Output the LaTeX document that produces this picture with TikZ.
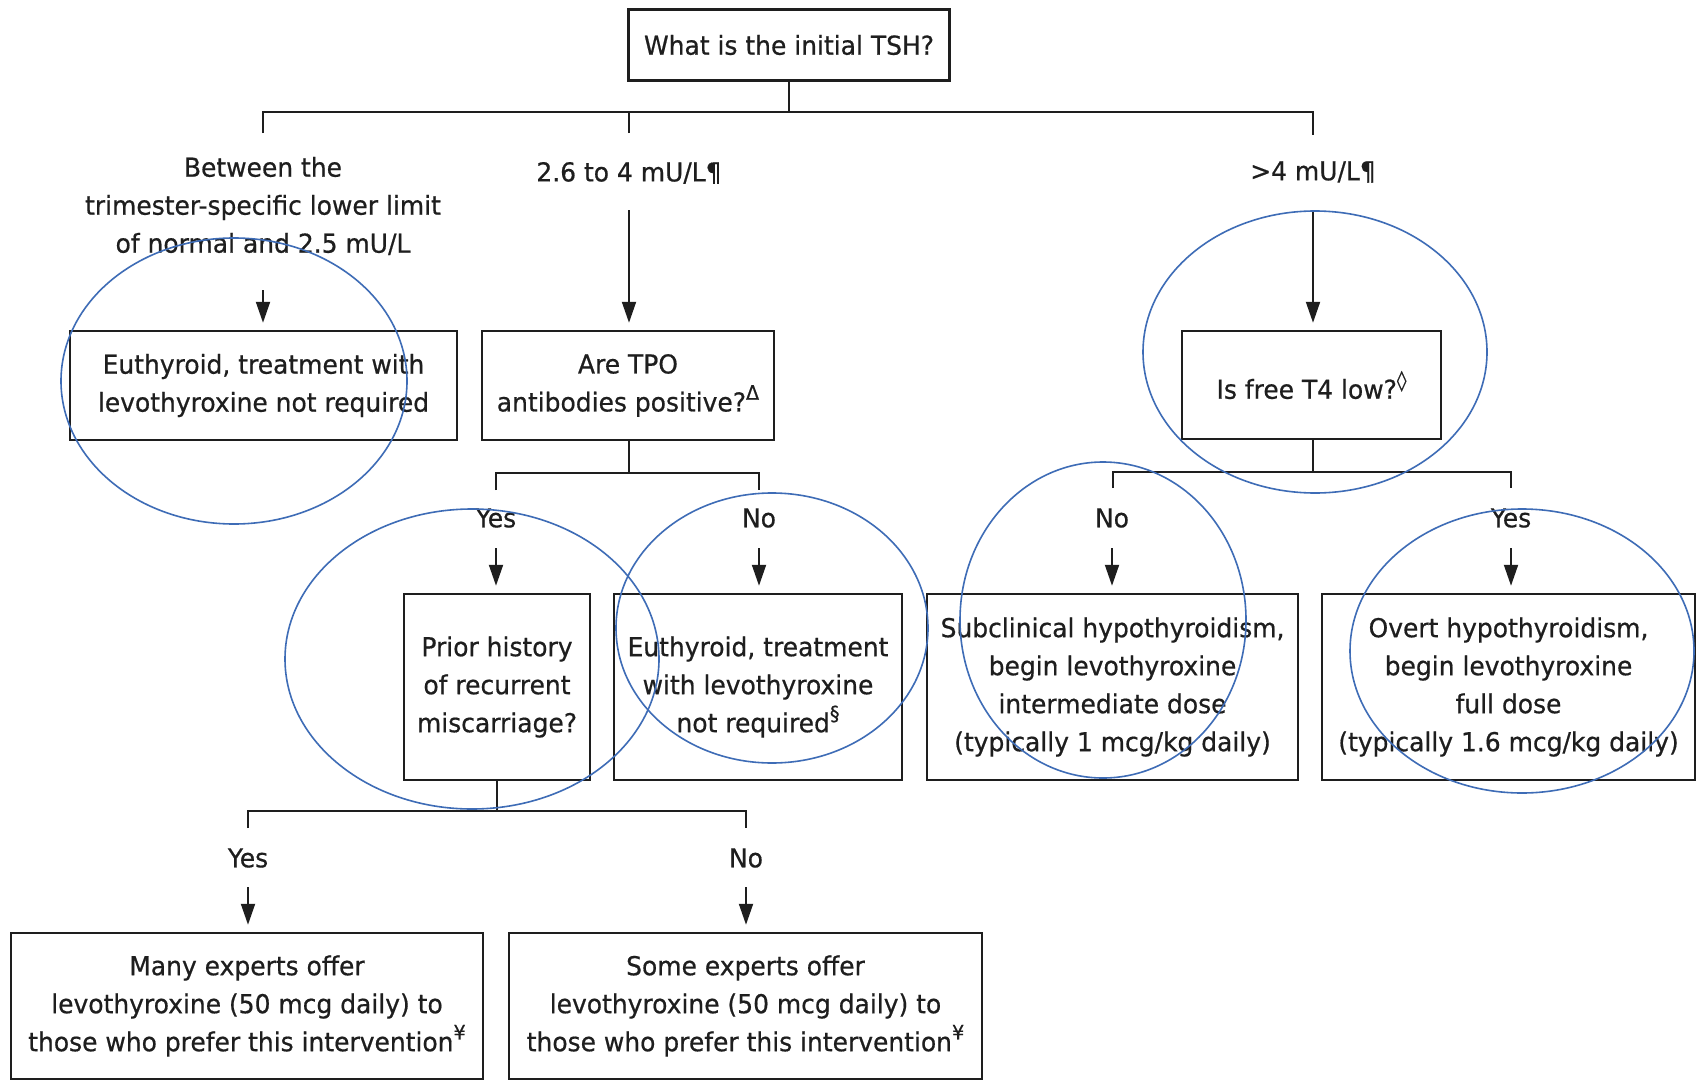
\documentclass[tikz,border=0pt]{standalone}
\usepackage{fontspec}
\setmainfont{DejaVu Sans}[FakeStretch=0.96,FakeBold=0.6]
\usetikzlibrary{arrows.meta}
\definecolor{ink}{RGB}{30,30,30}
\definecolor{annblue}{RGB}{62,108,182}
\newcommand\supsym[1]{\raisebox{0.45em}{\fontsize{20}{20}\selectfont #1}}
\tikzset{
  txt/.style={font=\fontsize{26}{38}\selectfont, text=ink, align=center, inner sep=0pt},
  boxnode/.style={txt, draw=ink, line width=2.5pt, rectangle},
  conn/.style={draw=ink, line width=2pt},
  arr/.style={conn, -{Triangle[length=21pt,width=14pt]}, shorten >=7pt},
  ann/.style={draw=annblue, line width=1.6pt}
}
\begin{document}
\begin{tikzpicture}[x=1pt,y=-1pt]
\useasboundingbox (0,0) rectangle (1697,1081);
\fill[white] (0,0) rectangle (1697,1081);

% boxes
\node[boxnode, minimum width=321pt, minimum height=71pt] (top) at (789,45) {What is the initial TSH?};
\node[boxnode, minimum width=387pt, minimum height=109pt] (box1) at (263.5,385.5) {Euthyroid, treatment with\\levothyroxine not required};
\node[boxnode, minimum width=292pt, minimum height=109pt] (tpo) at (628,385.5) {Are TPO\\antibodies positive?\supsym{Δ}};
\node[boxnode, minimum width=259pt, minimum height=108pt] (t4) at (1311.5,385) {Is free T4 low?\supsym{◊}};
\node[boxnode, minimum width=186pt, minimum height=186pt] (prior) at (497,687) {Prior history\\of recurrent\\miscarriage?};
\node[boxnode, minimum width=288pt, minimum height=186pt] (euth2) at (758,687) {Euthyroid, treatment\\with levothyroxine\\not required\supsym{§}};
\node[boxnode, minimum width=371pt, minimum height=186pt] (sub) at (1112.5,687) {Subclinical hypothyroidism,\\begin levothyroxine\\intermediate dose\\(typically 1 mcg/kg daily)};
\node[boxnode, minimum width=373pt, minimum height=186pt] (overt) at (1508.5,687) {Overt hypothyroidism,\\begin levothyroxine\\full dose\\(typically 1.6 mcg/kg daily)};
\node[boxnode, minimum width=472pt, minimum height=146pt] (many) at (247,1006) {Many experts offer\\levothyroxine (50 mcg daily) to\\those who prefer this intervention\supsym{¥}};
\node[boxnode, minimum width=473pt, minimum height=146pt] (some) at (745.5,1006) {Some experts offer\\levothyroxine (50 mcg daily) to\\those who prefer this intervention\supsym{¥}};

% labels
\node[txt] (lab1) at (263,206) {Between the\\trimester-specific lower limit\\of normal and 2.5 mU/L};
\node[txt] (lab2) at (629,173) {2.6 to 4 mU/L¶};
\node[txt] (lab3) at (1313,172) {>4 mU/L¶};
\node[txt] (yes1) at (496,518) {Yes};
\node[txt] (no1) at (759,518) {No};
\node[txt] (no2) at (1112,518) {No};
\node[txt] (yes2) at (1511,518) {Yes};
\node[txt] (yes3) at (248,858) {Yes};
\node[txt] (no3) at (746,858) {No};

% tree 1
\coordinate (bar1) at (789,112);
\coordinate (d11) at (263,133);
\coordinate (d12) at (629,133);
\coordinate (d13) at (1313,135);
\draw[conn] (top.south) -- (bar1);
\draw[conn] (d11) -- (d11 |- bar1) -- (d13 |- bar1) -- (d13);
\draw[conn] (d12) -- (d12 |- bar1);

% tree 2
\coordinate (bar2) at (629,473);
\coordinate (d21) at (496,490);
\coordinate (d22) at (759,490);
\draw[conn] (tpo.south -| bar2) -- (bar2);
\draw[conn] (d21) -- (d21 |- bar2) -- (d22 |- bar2) -- (d22);

% tree 3
\coordinate (bar3) at (1313,472);
\coordinate (d31) at (1113,488);
\coordinate (d32) at (1511,488);
\draw[conn] (t4.south -| bar3) -- (bar3);
\draw[conn] (d31) -- (d31 |- bar3) -- (d32 |- bar3) -- (d32);

% tree 4
\coordinate (bar4) at (497,811);
\coordinate (d41) at (248,828);
\coordinate (d42) at (746,828);
\draw[conn] (prior.south) -- (bar4);
\draw[conn] (d41) -- (d41 |- bar4) -- (d42 |- bar4) -- (d42);

% arrows
\coordinate (a1) at (263,290);
\coordinate (a2) at (629,210);
\coordinate (a3) at (1313,210);
\coordinate (a4) at (496,548);
\coordinate (a5) at (759,548);
\coordinate (a6) at (1112,548);
\coordinate (a7) at (1511,548);
\coordinate (a8) at (248,887);
\coordinate (a9) at (746,887);
\draw[arr] (a1) -- (a1 |- box1.north);
\draw[arr] (a2) -- (a2 |- tpo.north);
\draw[arr] (a3) -- (a3 |- t4.north);
\draw[arr] (a4) -- (a4 |- prior.north);
\draw[arr] (a5) -- (a5 |- euth2.north);
\draw[arr] (a6) -- (a6 |- sub.north);
\draw[arr] (a7) -- (a7 |- overt.north);
\draw[arr] (a8) -- (a8 |- many.north);
\draw[arr] (a9) -- (a9 |- some.north);

% annotation ellipses
\draw[ann] (234,381) ellipse [x radius=173pt, y radius=143pt];
\draw[ann] (1315,352) ellipse [x radius=172pt, y radius=141pt];
\draw[ann] (472,659) ellipse [x radius=187pt, y radius=150pt];
\draw[ann] (772,628) ellipse [x radius=156pt, y radius=135pt];
\draw[ann] (1103,620) ellipse [x radius=143pt, y radius=158pt];
\draw[ann] (1522,651) ellipse [x radius=172pt, y radius=142pt];
\end{tikzpicture}
\end{document}
